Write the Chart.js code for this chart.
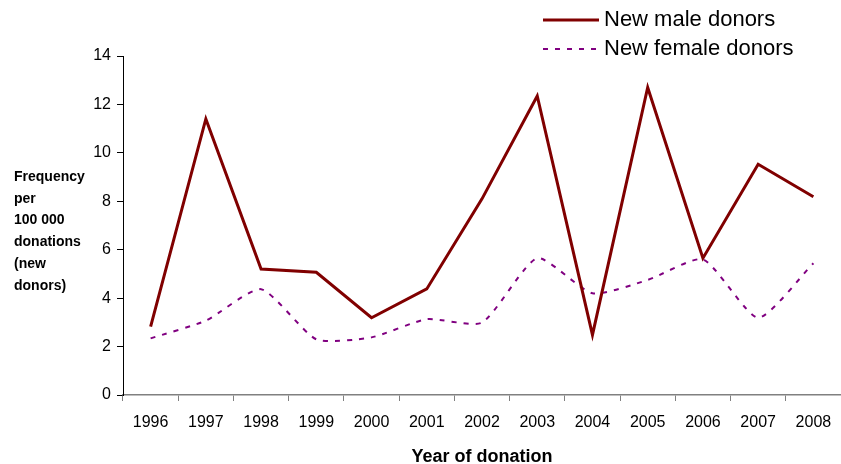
<!DOCTYPE html>
<html>
<head>
<meta charset="utf-8">
<script src="https://cdn.jsdelivr.net/npm/chart.js@4"></script>
<style>
    html, body { margin: 0; padding: 0; background: #fff; }
    #wrap { width: 841px; height: 464px; position: relative; }
</style>
</head>
<body>
<div id="wrap"><canvas id="donor-chart"></canvas></div>
<script>
const years = ['1996', '1997', '1998', '1999', '2000', '2001', '2002', '2003', '2004', '2005', '2006', '2007', '2008'];
const maleDonors = [2.82, 11.4, 5.2, 5.07, 3.19, 4.38, 8.1, 12.35, 2.48, 12.7, 5.65, 9.53, 8.19];
const femaleDonors = [2.34, 3.07, 4.37, 2.3, 2.38, 3.13, 2.99, 5.65, 4.2, 4.75, 5.6, 3.19, 5.44];
const yTitleLines = ['Frequency', 'per', '100 000', 'donations', '(new', 'donors)'];

const FONT = '"Liberation Sans", Arial, sans-serif';

// draws the legend (top right) and the stacked y title (left)
const extraText = {
    id: 'extraText',
    afterDraw(chart) {
        const ctx = chart.ctx;
        ctx.save();
        ctx.textBaseline = 'middle';

        chart.data.datasets.forEach((ds, i) => {
            const y = 20 + i * 29;
            ctx.beginPath();
            ctx.strokeStyle = ds.borderColor;
            ctx.lineWidth = ds.borderWidth;
            ctx.setLineDash(ds.borderDash || []);
            ctx.moveTo(543, y);
            ctx.lineTo(599, y);
            ctx.stroke();
            ctx.setLineDash([]);
            ctx.fillStyle = '#000';
            ctx.font = '22px ' + FONT;
            ctx.textAlign = 'left';
            ctx.fillText(ds.label, 604, y);
        });

        ctx.font = 'bold 14px ' + FONT;
        ctx.fillStyle = '#000';
        ctx.textAlign = 'left';
        yTitleLines.forEach((line, i) => {
            ctx.fillText(line, 14, 177 + i * 21.8);
        });
        ctx.restore();
    }
};

const ctx = document.getElementById('donor-chart').getContext('2d');
const donorChart = new Chart(ctx, {
    type: 'line',
    data: {
        labels: years,
        datasets: [{
            label: 'New male donors',
            data: maleDonors,
            borderColor: '#800000',
            borderWidth: 3,
            pointRadius: 0,
            tension: 0
        }, {
            label: 'New female donors',
            data: femaleDonors,
            borderColor: '#800080',
            borderWidth: 2,
            borderDash: [5, 7],
            pointRadius: 0,
            tension: 0.2
        }]
    },
    options: {
        responsive: true,
        maintainAspectRatio: false,
        animation: false,
        layout: {
            padding: { top: 56, left: 0, right: 0, bottom: 0 }
        },
        plugins: {
            legend: { display: false },
            tooltip: { enabled: false }
        },
        scales: {
            x: {
                offset: true,
                grid: {
                    offset: true,
                    drawOnChartArea: false,
                    color: '#808080',
                    tickLength: 6
                },
                border: { color: '#808080', width: 1.5 },
                ticks: {
                    color: '#000',
                    font: { family: FONT, size: 16 },
                    maxRotation: 0,
                    padding: 12
                },
                title: {
                    display: true,
                    text: 'Year of donation',
                    color: '#000',
                    font: { family: FONT, size: 18, weight: 'bold' },
                    padding: { top: 10, bottom: -4 }
                },
                afterFit(scale) {
                    scale.height = 69;
                    scale.paddingLeft = 0;
                    scale.paddingRight = 0;
                }
            },
            y: {
                min: 0,
                max: 14,
                grid: {
                    drawOnChartArea: false,
                    color: '#000',
                    tickLength: 6
                },
                border: { color: '#000', width: 1 },
                ticks: {
                    stepSize: 2,
                    color: '#000',
                    font: { family: FONT, size: 16 },
                    padding: 6
                },
                afterFit(scale) { scale.width = 123; }
            }
        }
    },
    plugins: [extraText]
});
</script>
</body>
</html>
